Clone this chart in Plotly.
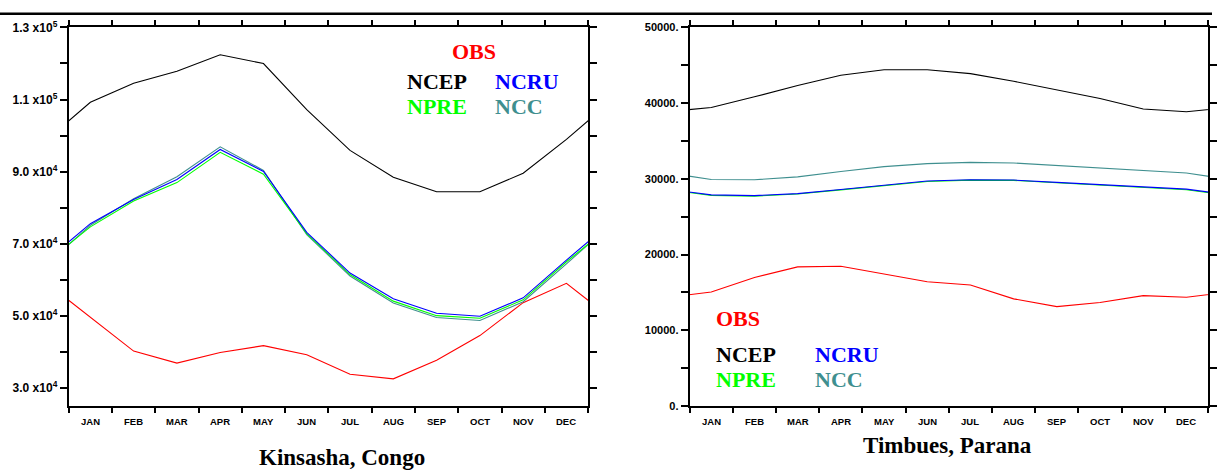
import plotly.graph_objects as go

W, H = 1217, 474

months = ["JAN", "FEB", "MAR", "APR", "MAY", "JUN", "JUL", "AUG", "SEP", "OCT", "NOV", "DEC"]

# Kinsasha, Congo
kin_obs  = [49640, 40240, 36910, 39860, 41740, 39240, 33800, 32530, 37720, 44540, 53660, 59030]
kin_ncep = [109240, 114510, 117840, 122400, 119980, 107180, 95900, 88460, 84440, 84440, 89540, 98940]
kin_ncru = [75570, 82280, 87840, 96160, 90070, 73150, 61880, 54740, 50710, 49900, 55000, 65480]
kin_npre = [74690, 81860, 86960, 95360, 89270, 72800, 61450, 54090, 50060, 49360, 54460, 65020]
kin_ncc  = [75140, 82470, 88570, 96890, 90340, 72540, 61070, 53550, 49530, 48720, 53930, 64400]

# Timbues, Parana
tim_obs  = [15050, 16970, 18370, 18450, 17390, 16410, 15980, 14150, 13130, 13680, 14580, 14370]
tim_ncep = [39420, 40830, 42330, 43690, 44410, 44410, 43900, 42880, 41780, 40620, 39220, 38870]
tim_ncru = [27880, 27790, 28050, 28600, 29160, 29710, 29880, 29840, 29540, 29250, 28940, 28640]
tim_npre = [27820, 27720, 27990, 28540, 29100, 29650, 29830, 29800, 29490, 29190, 28870, 28560]
tim_ncc  = [29920, 29880, 30260, 30980, 31620, 32010, 32180, 32100, 31750, 31460, 31110, 30780]

kin_ytick_vals = [30000, 50000, 70000, 90000, 110000, 130000]
kin_ytick_text = ["3.0 x10<sup>4</sup>", "5.0 x10<sup>4</sup>", "7.0 x10<sup>4</sup>",
                  "9.0 x10<sup>4</sup>", "1.1 x10<sup>5</sup>", "1.3 x10<sup>5</sup>"]
kin_yminor_vals = [40000, 60000, 80000, 100000, 120000]
tim_ytick_vals = [0, 10000, 20000, 30000, 40000, 50000]
tim_ytick_text = ["0.", "10000.", "20000.", "30000.", "40000.", "50000."]
tim_yminor_vals = [5000, 15000, 25000, 35000, 45000]

series_names = ["OBS", "NCEP", "NCC", "NPRE", "NCRU"]
colors = {"OBS": "#ff0000", "NCEP": "#000000", "NCRU": "#0000ff", "NPRE": "#00ff00", "NCC": "#3f8f8f"}

# cyclic monthly climatology: previous DEC and next JAN, clipped by the axis range
xc = list(range(0, 14))

def cyc(v):
    return [v[-1]] + list(v) + [v[0]]

fig = go.Figure()
kin = {"OBS": kin_obs, "NCEP": kin_ncep, "NCRU": kin_ncru, "NPRE": kin_npre, "NCC": kin_ncc}
tim = {"OBS": tim_obs, "NCEP": tim_ncep, "NCRU": tim_ncru, "NPRE": tim_npre, "NCC": tim_ncc}
for name in series_names:
    fig.add_trace(go.Scatter(x=xc, y=cyc(kin[name]), mode="lines", name=name,
                             line=dict(color=colors[name], width=1.1), xaxis="x", yaxis="y",
                             showlegend=False))
for name in series_names:
    fig.add_trace(go.Scatter(x=xc, y=cyc(tim[name]), mode="lines", name=name,
                             line=dict(color=colors[name], width=1.1), xaxis="x2", yaxis="y2",
                             showlegend=False))

def px(x):
    return x / W

def py(y):
    return 1 - y / H

monthfont = dict(family="Liberation Sans", size=9.5, color="black", weight="bold")
bounds = [i + 0.5 for i in range(0, 13)]

def xaxis_common(dom, anchor):
    return dict(domain=dom, anchor=anchor, range=[0.5, 12.5], tickvals=bounds,
                showticklabels=False, ticks="outside", ticklen=5, tickwidth=1.5,
                tickcolor="black", showline=True, linewidth=2, linecolor="black",
                mirror="ticks", showgrid=False, zeroline=False, fixedrange=True)

def yaxis_common(dom, anchor, rng, vals, text, minor_vals, fsize):
    return dict(domain=dom, anchor=anchor, range=rng, tickvals=vals, ticktext=text,
                ticks="outside", ticklen=7, tickwidth=1.5, tickcolor="black",
                minor=dict(tickvals=minor_vals, ticks="outside", ticklen=7, tickwidth=1.5,
                           tickcolor="black", showgrid=False),
                showline=True, linewidth=2, linecolor="black", mirror="ticks",
                showgrid=False, zeroline=False,
                tickfont=dict(family="Liberation Sans", size=fsize, color="black", weight="bold"))

ydom = [py(410), py(19)]
xdom1 = [px(69), px(590.5)]
xdom2 = [px(692.5), px(1213)]

fig.update_layout(
    width=W, height=H,
    margin=dict(l=0, r=0, t=0, b=0),
    paper_bgcolor="white", plot_bgcolor="white",
    xaxis=xaxis_common(xdom1, "y"),
    yaxis=yaxis_common(ydom, "x", [25000, 130000], kin_ytick_vals, kin_ytick_text, kin_yminor_vals, 12),
    xaxis2=xaxis_common(xdom2, "y2"),
    yaxis2=yaxis_common(ydom, "x2", [0, 50000], tim_ytick_vals, tim_ytick_text, tim_yminor_vals, 11),
    showlegend=False,
)

fig.add_shape(type="line", xref="paper", yref="paper", x0=0, x1=1, y0=py(5), y1=py(5),
              line=dict(color="black", width=2.5))

# month labels placed on each x axis (centred on the months)
for xr in ("x", "x2"):
    for i, m in enumerate(months):
        fig.add_annotation(text=m, x=i + 1, xref=xr, y=py(425.5), yref="paper",
                           xanchor="center", yanchor="middle", showarrow=False,
                           font=monthfont)

lf = "Liberation Serif"
def lab(text, x, y, color, xanchor="left", size=22):
    fig.add_annotation(text=f"<b>{text}</b>", x=px(x), y=py(y), xref="paper", yref="paper",
                       xanchor=xanchor, yanchor="middle", showarrow=False,
                       font=dict(family=lf, size=size, color=color))

# left panel labels
lab("OBS", 475.5, 44, colors["OBS"], "center")
lab("NCEP", 406.5, 75, colors["NCEP"])
lab("NCRU", 495, 75, colors["NCRU"])
lab("NPRE", 406.5, 100.5, colors["NPRE"])
lab("NCC", 495, 100.5, colors["NCC"])
# right panel labels
lab("OBS", 717, 320, colors["OBS"])
lab("NCEP", 717, 356.5, colors["NCEP"])
lab("NCRU", 816.5, 356.5, colors["NCRU"])
lab("NPRE", 717, 383, colors["NPRE"])
lab("NCC", 816.5, 383, colors["NCC"])
# titles
lab("Kinsasha, Congo", 343, 463, "black", "center", 23)
lab("Timbues, Parana", 951.5, 451, "black", "center", 23)

fig.write_html("out.html")
